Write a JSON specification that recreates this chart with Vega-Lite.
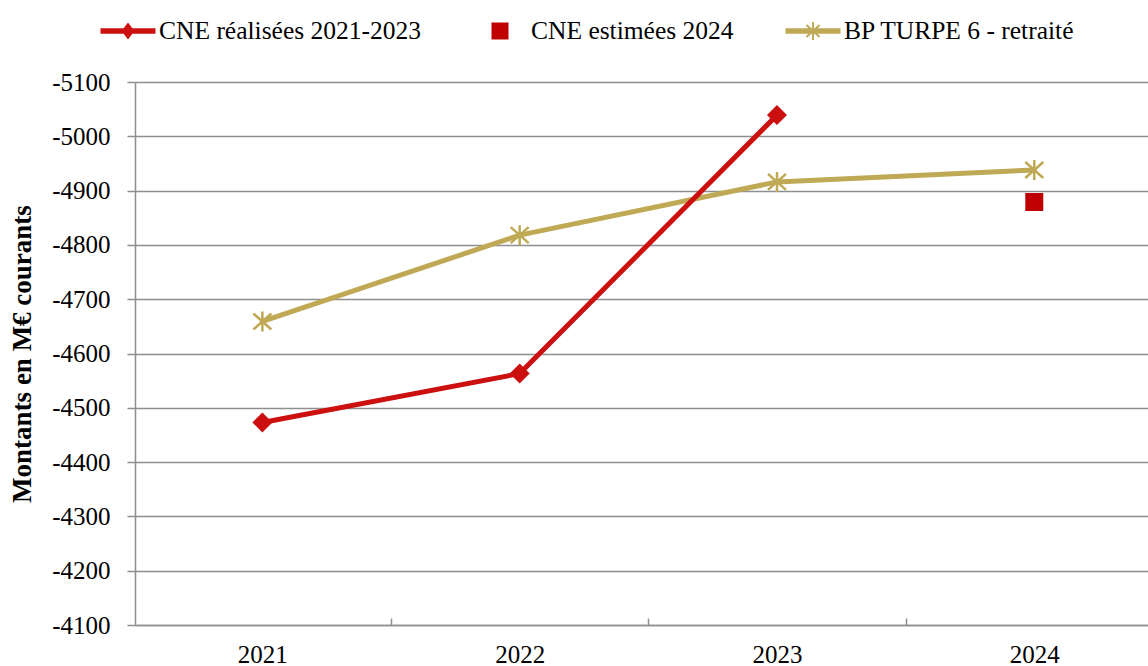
{
  "$schema": "https://vega.github.io/schema/vega-lite/v6.json",
  "width": 1013,
  "height": 543,
  "autosize": {"type": "none"},
  "padding": {"left": 135, "top": 82, "right": 0, "bottom": 41},
  "background": "white",
  "config": {"view": {"stroke": null}, "font": "Liberation Serif"},
  "data": {
    "values": [
      {"year": 2021, "value": -4473, "series": "CNE réalisées 2021-2023"},
      {"year": 2022, "value": -4563, "series": "CNE réalisées 2021-2023"},
      {"year": 2023, "value": -5039, "series": "CNE réalisées 2021-2023"},
      {"year": 2024, "value": -4879, "series": "CNE estimées 2024"},
      {"year": 2021, "value": -4659, "series": "BP TURPE 6 - retraité"},
      {"year": 2022, "value": -4818, "series": "BP TURPE 6 - retraité"},
      {"year": 2023, "value": -4916, "series": "BP TURPE 6 - retraité"},
      {"year": 2024, "value": -4938, "series": "BP TURPE 6 - retraité"}
    ]
  },
  "encoding": {
    "y": {
      "field": "value",
      "type": "quantitative",
      "scale": {"domain": [-5100, -4100], "reverse": true, "nice": false, "zero": false},
      "axis": {
        "values": [-5100, -5000, -4900, -4800, -4700, -4600, -4500, -4400, -4300, -4200, -4100],
        "grid": true, "gridColor": "#8e8e8e", "gridWidth": 1.5,
        "domain": true, "domainColor": "#8e8e8e", "domainWidth": 1.5,
        "ticks": true, "tickColor": "#8e8e8e", "tickWidth": 1.5, "tickSize": 8,
        "labelExpr": "'' + datum.value",
        "labelFont": "Liberation Serif", "labelFontSize": 25, "labelColor": "#000000",
        "labelPadding": 17, "labelFlush": false, "labelOverlap": false,
        "title": "Montants en M€ courants",
        "titleFont": "Liberation Serif", "titleFontSize": 27, "titleFontWeight": "bold", "titleColor": "#000000",
        "titleX": -113, "titleY": 271.5, "titleAngle": -90, "titleAlign": "center", "titleBaseline": "middle"
      }
    }
  },
  "layer": [
    {
      "mark": {"type": "point", "filled": true, "size": 1, "opacity": 0},
      "encoding": {
        "x": {
          "field": "year", "type": "quantitative",
          "scale": {"domain": [2020.505, 2024.442], "nice": false, "zero": false},
          "axis": {
            "orient": "bottom",
            "values": [2021, 2022, 2023, 2024], "format": "d",
            "ticks": false, "tickSize": 0, "grid": false,
            "domain": true, "domainColor": "#8e8e8e", "domainWidth": 1.5,
            "labelFont": "Liberation Serif", "labelFontSize": 25, "labelColor": "#000000",
            "labelPadding": 37, "labelBaseline": "alphabetic", "labelFlush": false, "labelOverlap": false,
            "title": null
          }
        },
        "color": {
          "field": "series", "type": "nominal",
          "scale": {"domain": ["CNE réalisées 2021-2023", "CNE estimées 2024", "BP TURPE 6 - retraité"], "range": ["#CC1010", "#C00000", "#BFA955"]},
          "legend": {
            "orient": "none", "legendX": -34.5, "legendY": -78.5,
            "direction": "horizontal", "columnPadding": 51,
            "title": null, "padding": 0,
            "labelFont": "Liberation Serif", "labelFontSize": 25.5, "labelColor": "#000000",
            "labelOffset": 3.5, "labelLimit": 500,
            "symbolSize": 3025, "symbolStrokeWidth": 0, "symbolOpacity": 1
          }
        },
        "shape": {
          "field": "series", "type": "nominal",
          "scale": {
            "domain": ["CNE réalisées 2021-2023", "CNE estimées 2024", "BP TURPE 6 - retraité"],
            "range": [
              "M-1,-0.1H-0.16L0,-0.309L0.16,-0.1H1V0.1H0.16L0,0.309L-0.16,0.1H-1Z",
              "M-0.309,-0.309H0.309V0.309H-0.309Z",
              "M-1,-0.1H1V0.1H-1ZM-0.036,-0.33H0.036V0.33H-0.036ZM-0.216,-0.247L0.264,0.194L0.216,0.247L-0.264,-0.194ZM-0.264,0.194L0.216,-0.247L0.264,-0.194L-0.216,0.247Z"
            ]
          },
          "legend": {
            "orient": "none", "legendX": -34.5, "legendY": -78.5,
            "direction": "horizontal", "columnPadding": 51,
            "title": null, "padding": 0,
            "labelFont": "Liberation Serif", "labelFontSize": 25.5, "labelColor": "#000000",
            "labelOffset": 3.5, "labelLimit": 500,
            "symbolSize": 3025, "symbolStrokeWidth": 0, "symbolOpacity": 1
          }
        }
      }
    },
    {
      "transform": [{"filter": "datum.series === 'BP TURPE 6 - retraité'"}],
      "mark": {"type": "line", "color": "#BFA955", "strokeWidth": 5, "strokeCap": "round", "strokeJoin": "round"},
      "encoding": {
        "x": {
          "field": "year", "type": "quantitative",
          "scale": {"domain": [2020.505, 2024.442], "nice": false, "zero": false},
          "axis": {
            "orient": "bottom",
            "values": [2021.5, 2022.5, 2023.5],
            "labels": false, "ticks": true, "tickSize": -7, "tickColor": "#8e8e8e", "tickWidth": 1.5,
            "domain": false, "grid": false, "title": null
          }
        }
      }
    },
    {
      "transform": [{"filter": "datum.series === 'BP TURPE 6 - retraité'"}],
      "mark": {"type": "point", "color": "#BFA955", "shape": "M0,-1V1M-0.9,-0.8L0.9,0.8M-0.9,0.8L0.9,-0.8", "filled": false, "size": 400, "strokeWidth": 2.5, "opacity": 1},
      "encoding": {
        "x": {"field": "year", "type": "quantitative", "scale": {"domain": [2020.505, 2024.442], "nice": false, "zero": false}, "axis": null}
      }
    },
    {
      "transform": [{"filter": "datum.series === 'CNE réalisées 2021-2023'"}],
      "mark": {"type": "line", "color": "#CC1010", "strokeWidth": 5, "strokeCap": "round", "strokeJoin": "round"},
      "encoding": {
        "x": {"field": "year", "type": "quantitative", "scale": {"domain": [2020.505, 2024.442], "nice": false, "zero": false}, "axis": null}
      }
    },
    {
      "transform": [{"filter": "datum.series === 'CNE réalisées 2021-2023'"}],
      "mark": {"type": "point", "color": "#CC1010", "shape": "diamond", "filled": true, "size": 400, "opacity": 1},
      "encoding": {
        "x": {"field": "year", "type": "quantitative", "scale": {"domain": [2020.505, 2024.442], "nice": false, "zero": false}, "axis": null}
      }
    },
    {
      "transform": [{"filter": "datum.series === 'CNE estimées 2024'"}],
      "mark": {"type": "point", "color": "#C00000", "shape": "square", "filled": true, "size": 324, "opacity": 1},
      "encoding": {
        "x": {"field": "year", "type": "quantitative", "scale": {"domain": [2020.505, 2024.442], "nice": false, "zero": false}, "axis": null}
      }
    }
  ],
  "resolve": {"axis": {"x": "independent"}}
}
